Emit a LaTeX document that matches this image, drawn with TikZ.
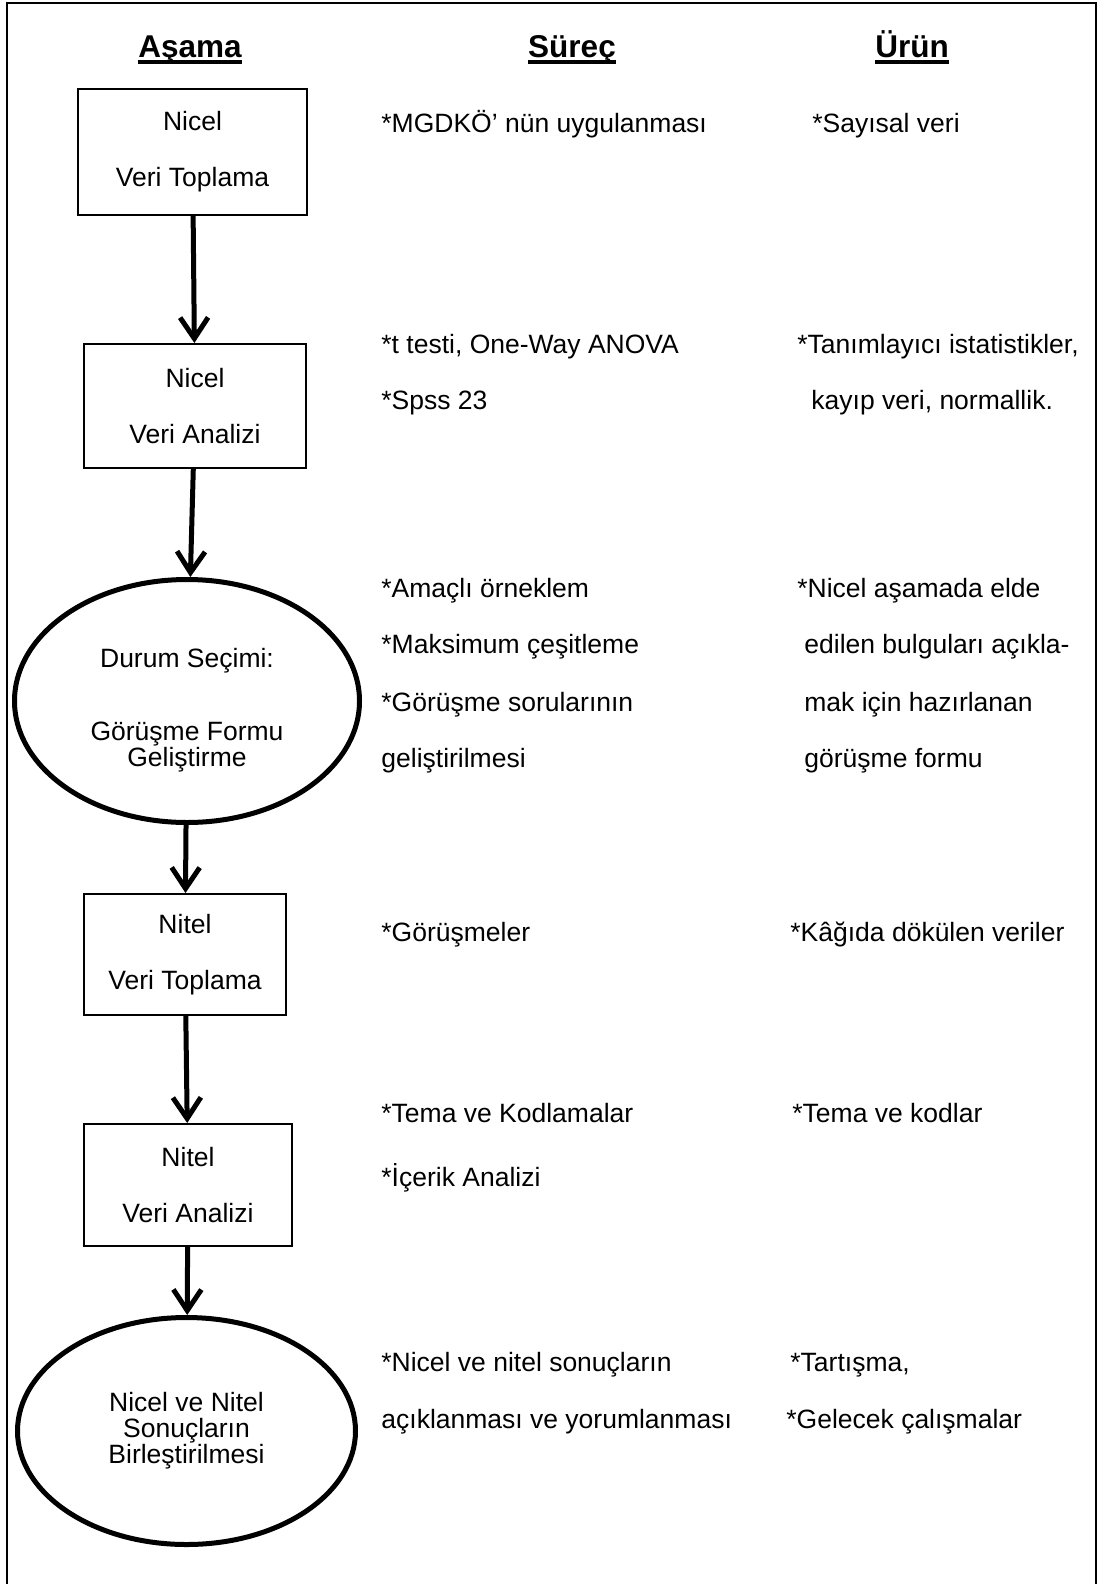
\documentclass[tikz,border=0pt]{standalone}
\usepackage{fontspec}
\setmainfont{Liberation Sans}
\usetikzlibrary{shapes.geometric,arrows.meta}
\newcommand{\hdul}[1]{\setbox0\hbox{#1}\rlap{\copy0}\rule[-3pt]{\wd0}{1.8pt}}

\begin{document}
\begin{tikzpicture}[x=0.5pt,y=-0.5pt,
  stage/.style={draw,line width=1pt,inner sep=0pt,align=center,font=\fontsize{13.25}{28}\selectfont},
  stageoval/.style={ellipse,draw,line width=2.5pt,inner sep=0pt,align=center,font=\fontsize{13.25}{13}\selectfont},
  note/.style={anchor=base west,inner sep=0pt,font=\fontsize{13.25}{16}\selectfont},
  head/.style={anchor=base,inner sep=0pt,font=\fontsize{15.75}{18}\bfseries\selectfont},
  link/.style={line width=2.5pt,-{Straight Barb[length=10.5pt,width=14pt]}}]
\useasboundingbox (0,0) rectangle (1101,1584);
\draw[line width=1pt] (7,1584) -- (7,3) -- (1096,3) -- (1096,1584);

\node[head] (h1) at (190,58) {\hdul{Aşama}};
\node[head] (h2) at (572,58) {\hdul{Süreç}};
\node[head] (h3) at (912,58) {\hdul{Ürün}};

\node[stage,minimum width=114.5pt,minimum height=63pt] (b1) at (192.5,152) {Nicel\\Veri Toplama};
\node[stage,minimum width=111pt,minimum height=62pt] (b2) at (195,406) {Nicel\\Veri Analizi};
\node[stageoval,minimum width=172.5pt,minimum height=121.5pt] (e1) at (187,701) {\rule{0pt}{18.5pt}Durum Seçimi:\\[23.5pt]Görüşme Formu\\Geliştirme};
\node[stage,minimum width=101pt,minimum height=60.5pt] (b3) at (185,954.5) {Nitel\\Veri Toplama};
\node[stage,minimum width=104pt,minimum height=61pt] (b4) at (188,1185) {Nitel\\Veri Analizi};
\node[stageoval,minimum width=169pt,minimum height=113.5pt] (e2) at (186.5,1431) {Nicel ve Nitel\\Sonuçların\\Birleştirilmesi};

\draw[link] (b1) -- (b2);
\draw[link] (b2) -- (e1);
\draw[link] (e1) -- (b3);
\draw[link] (b3) -- (b4);
\draw[link] (b4) -- (e2);

\node[note] (s1) at (381,133) {*MGDKÖ’ nün uygulanması};
\node[note] (s2) at (381,353) {*t testi, One-Way ANOVA};
\node[note] (s3) at (381,409) {*Spss 23};
\node[note] (s4) at (381,597) {*Amaçlı örneklem};
\node[note] (s5) at (381,653) {*Maksimum çeşitleme};
\node[note] (s6) at (381,711) {*Görüşme sorularının};
\node[note] (s7) at (381,767) {geliştirilmesi};
\node[note] (s8) at (381,941) {*Görüşmeler};
\node[note] (s9) at (381,1122) {*Tema ve Kodlamalar};
\node[note] (s10) at (381,1186) {*İçerik Analizi};
\node[note] (s11) at (381,1371) {*Nicel ve nitel sonuçların};
\node[note] (s12) at (381,1428) {açıklanması ve yorumlanması};

\node[note] (u1) at (812,133) {*Sayısal veri};
\node[note] (u2) at (797,353) {*Tanımlayıcı istatistikler,};
\node[note] (u3) at (811,409) {kayıp veri, normallik.};
\node[note] (u4) at (797,597) {*Nicel aşamada elde};
\node[note] (u5) at (804,653) {edilen bulguları açıkla-};
\node[note] (u6) at (804,711) {mak için hazırlanan};
\node[note] (u7) at (804,767) {görüşme formu};
\node[note] (u8) at (790,941) {*Kâğıda dökülen veriler};
\node[note] (u9) at (792,1122) {*Tema ve kodlar};
\node[note] (u10) at (790,1371) {*Tartışma,};
\node[note] (u11) at (786,1428) {*Gelecek çalışmalar};
\end{tikzpicture}
\end{document}
